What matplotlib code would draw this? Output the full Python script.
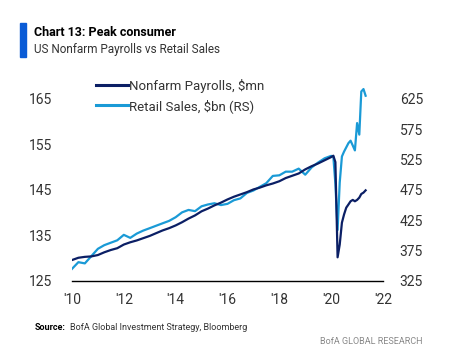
import matplotlib
matplotlib.use("Agg")
import matplotlib.pyplot as plt
import matplotlib.dates as mdates
import matplotlib.patches as mpatches
import pandas as pd

plt.rcParams['font.family'] = ['Roboto', 'DejaVu Sans']

# quarterly 2010-2019, then monthly Jan 2020 - May 2021
dates = list(pd.date_range('2010-01-01', '2019-10-01', freq='QS')) + \
        list(pd.date_range('2020-01-01', '2021-05-01', freq='MS'))

payrolls = [129.6, 130.1, 130.3, 130.4,
            130.7, 131.3, 131.8, 132.2,
            133.0, 133.5, 133.9, 134.4,
            134.9, 135.5, 136.1, 136.6,
            137.2, 137.9, 138.7, 139.4,
            140.3, 140.9, 141.6, 142.2,
            142.9, 143.5, 144.0, 144.5,
            145.1, 145.5, 146.0, 146.4,
            146.9, 147.6, 148.1, 148.6,
            149.5, 150.2, 150.8, 151.5,
            152.2, 152.5, 151.1, 130.2, 133.0, 137.8, 139.6, 141.1,
            141.8, 142.5, 142.8, 142.5,
            142.8, 143.3, 144.1, 144.4, 144.9]

retail = [345, 356, 354, 366,
          378, 384, 388, 392,
          401, 396, 403, 408,
          412, 416, 420, 424,
          430, 438, 442, 440,
          448, 451, 453, 450,
          452, 458, 461, 470,
          474, 480, 486, 498,
          499, 505, 505, 510,
          500, 512, 520, 527,
          531, 530, 485, 409, 487, 530, 538, 545,
          552, 556, 548, 540,
          585, 566, 637, 641, 630]

left_ticks = [125, 135, 145, 155, 165]
right_ticks = [325, 375, 425, 475, 525, 575, 625]
year_ticks = [2010, 2012, 2014, 2016, 2018, 2020, 2022]

navy = '#0b1f65'
light = '#1a9ad6'
txt = '#333333'

fig = plt.figure(figsize=(4.62, 3.56), dpi=100)
ax = fig.add_axes([72/462, 1 - 281/356, 311/462, 205/356])
ax2 = ax.twinx()

ax.plot(dates, payrolls, color=navy, lw=1.6, label='Nonfarm Payrolls, $mn', zorder=3)
ax2.plot(dates, retail, color=light, lw=1.6, label='Retail Sales, $bn (RS)', zorder=2)
ax.set_zorder(ax2.get_zorder() + 1)
ax.patch.set_visible(False)

ax.set_ylim(125, 170)
ax2.set_ylim(325, 662.5)
ax.set_yticks(left_ticks)
ax2.set_yticks(right_ticks)
ax.set_xlim(pd.Timestamp('2010-01-01'), pd.Timestamp('2022-01-01'))
ax.set_xticks([pd.Timestamp(f'{y}-01-01') for y in year_ticks])
ax.xaxis.set_major_formatter(mdates.DateFormatter("'%y"))

for a in (ax, ax2):
    for s in ('top', 'left', 'right'):
        a.spines[s].set_visible(False)
    a.spines['bottom'].set_visible(a is ax)
    a.tick_params(length=0, labelsize=10, colors=txt)
ax.spines['bottom'].set_color('black')
ax.spines['bottom'].set_linewidth(1.0)
ax.tick_params(axis='y', pad=14)
ax2.tick_params(axis='y', pad=12)
ax.tick_params(axis='x', pad=9)

h1, l1 = ax.get_legend_handles_labels()
h2, l2 = ax2.get_legend_handles_labels()
leg = ax.legend(h1 + h2, l1 + l2, loc='upper left', bbox_to_anchor=(0.04, 1.045),
                frameon=False, fontsize=9.5, handlelength=2.4, handletextpad=0.1,
                labelspacing=0.45, labelcolor=txt)
for line in leg.get_lines():
    line.set_linewidth(2.2)

# header
fig.patches.append(mpatches.Rectangle((20/462, 1 - 57/356), 6/462, 34/356,
                                      transform=fig.transFigure, color='#0a5bd6'))
fig.text(34/462, 1 - 33/356, 'Chart 13: Peak consumer', fontsize=9,
         fontweight='bold', color='black', va='center')
fig.text(34/462, 1 - 50/356, 'US Nonfarm Payrolls vs Retail Sales', fontsize=8.5,
         color=txt, va='center')

# footer
src = fig.text(35/462, 1 - 328/356, 'Source:', fontsize=6.5, fontweight='bold',
               color='black', va='center')
fig.canvas.draw()
bb = src.get_window_extent()
fig.text((bb.x1 + 4) / 462, 1 - 328/356, 'BofA Global Investment Strategy, Bloomberg',
         fontsize=6.5, color=txt, va='center')
fig.text(423/462, 1 - 342/356, 'BofA GLOBAL RESEARCH', fontsize=6.5,
         color='#888888', va='center', ha='right')

fig.savefig('out.png', dpi=100)
